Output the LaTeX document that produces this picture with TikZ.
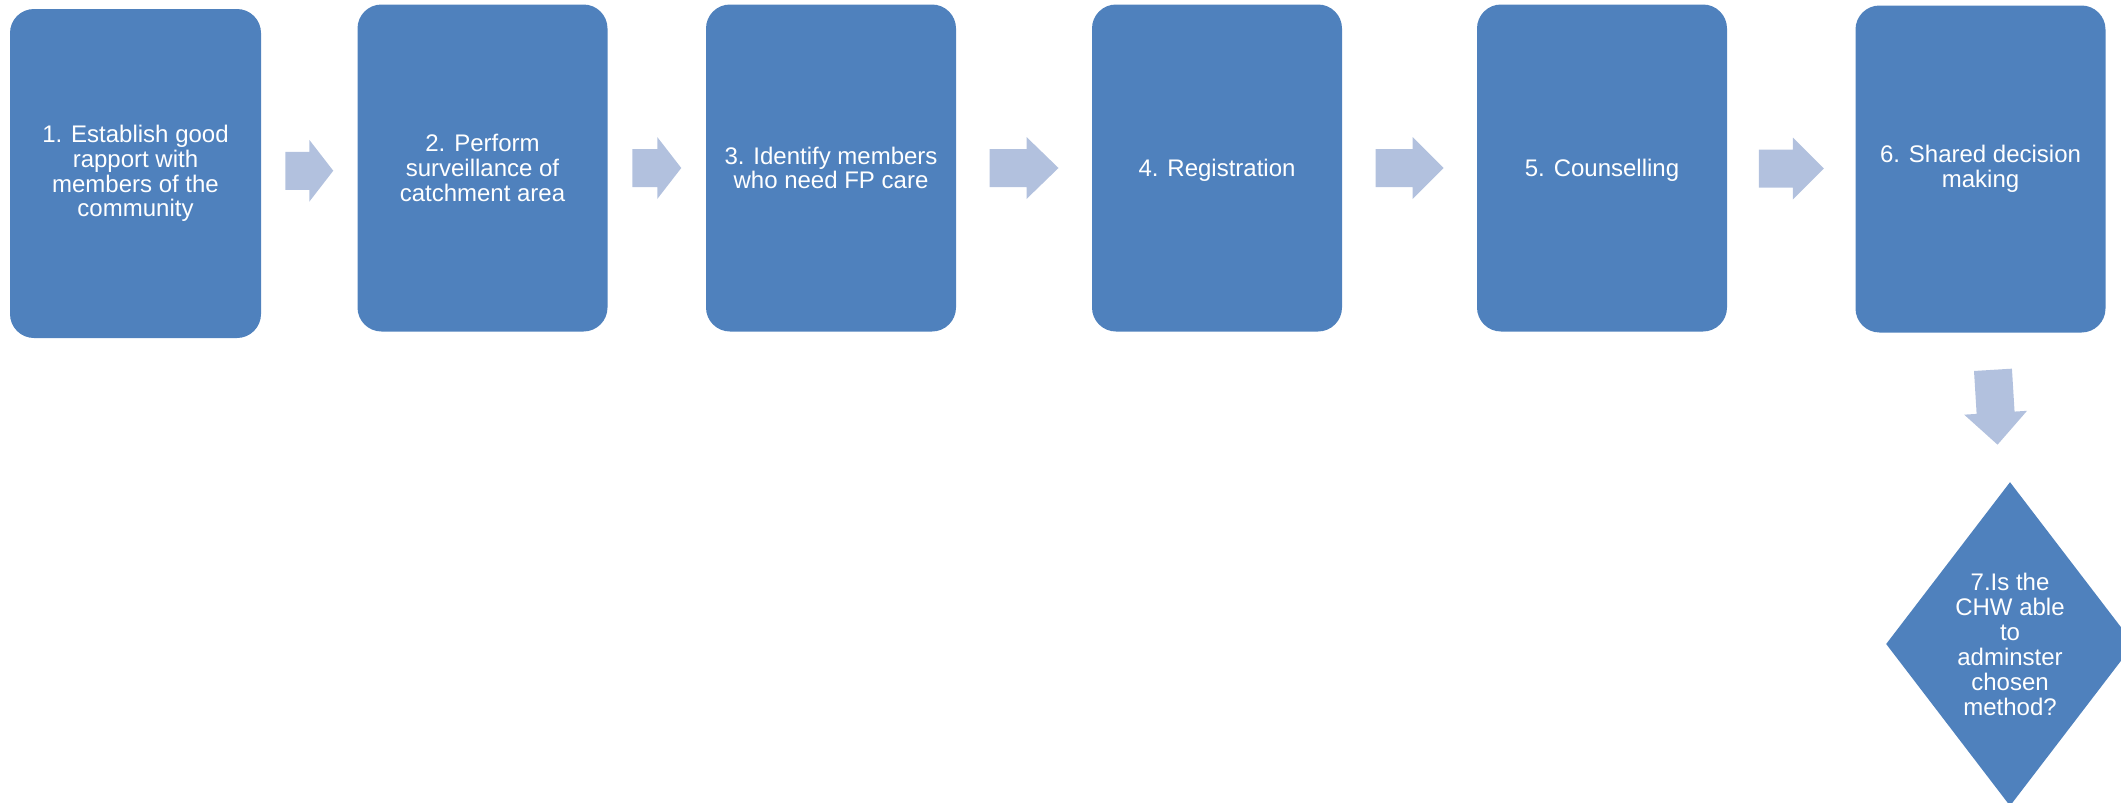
\documentclass[tikz,border=0pt]{standalone}
\usepackage{fontspec}
\setmainfont{Liberation Sans}
\usepackage{xcolor}
\usepackage{tikz}
\usetikzlibrary{calc, shapes.geometric}
\definecolor{stepblue}{RGB}{79, 129, 189}
\definecolor{arrowblue}{RGB}{178, 193, 222}

\tikzset{
  pics/blockarrow/.style 2 args={code={
    \fill[arrowblue] ({-#1/2},-19) -- ({#1/2-#2},-19) -- ({#1/2-#2},-31) -- ({#1/2},0)
      -- ({#1/2-#2},31) -- ({#1/2-#2},19) -- ({-#1/2},19) -- cycle;
  }}
}

\begin{document}
\begin{tikzpicture}[x=0.5pt, y=-0.5pt,
  stepbox/.style={fill=stepblue, rounded corners=12pt, minimum width=125pt, minimum height=163.5pt,
    inner sep=0pt, align=center, text=white, font=\fontsize{12}{12.3}\selectfont},
  oneline/.style={text height=11pt, text depth=2.5pt},
  decision/.style={diamond, fill=stepblue, aspect=0.77, minimum width=124pt, minimum height=162pt,
    inner sep=0pt, align=center, text=white, font=\fontsize{12}{12.5}\selectfont}]
  \useasboundingbox (0,0) rectangle (2121,803);
  \clip (0,0) rectangle (2121,803);

  \node[stepbox, minimum width=125.5pt, minimum height=164.5pt] (b1) at (135.5,173.5) {1. Establish good\\rapport with\\members of the\\community};
  \node[stepbox] (b2) at (482.5,168) {2. Perform\\surveillance of\\catchment area};
  \node[stepbox] (b3) at (831,168) {3. Identify members\\who need FP care};
  \node[stepbox, oneline] (b4) at (1217,168) {4. Registration};
  \node[stepbox, oneline] (b5) at (1602,168) {5. Counselling};
  \node[stepbox] (b6) at (1980.5,169) {6. Shared decision\\making};
  \node[decision] (d7) at (2010,644) {7.Is the\\CHW able\\to\\adminster\\chosen\\method?};

  % block arrows between the steps
  \pic at ($(b1.east)!0.5!(b2.west)$) {blockarrow={48}{24}};
  \pic at ($(b2.east)!0.5!(b3.west)$) {blockarrow={49}{24}};
  \pic at ($(b3.east)!0.5!(b4.west)$) {blockarrow={69}{32}};
  \pic at ($(b4.east)!0.5!(b5.west)$) {blockarrow={68}{31}};
  \pic at ($(b5.east)!0.5!(b6.west)$) {blockarrow={65}{31}};
  \fill[arrowblue, shift={($(b6.south)!0.5!(d7.north)$)}, rotate=3.5]
    (-19,-37.5) -- (19,-37.5) -- (19,5.5) -- (31.5,5.5) -- (0,37.5) -- (-31.5,5.5) -- (-19,5.5) -- cycle;
\end{tikzpicture}
\end{document}
